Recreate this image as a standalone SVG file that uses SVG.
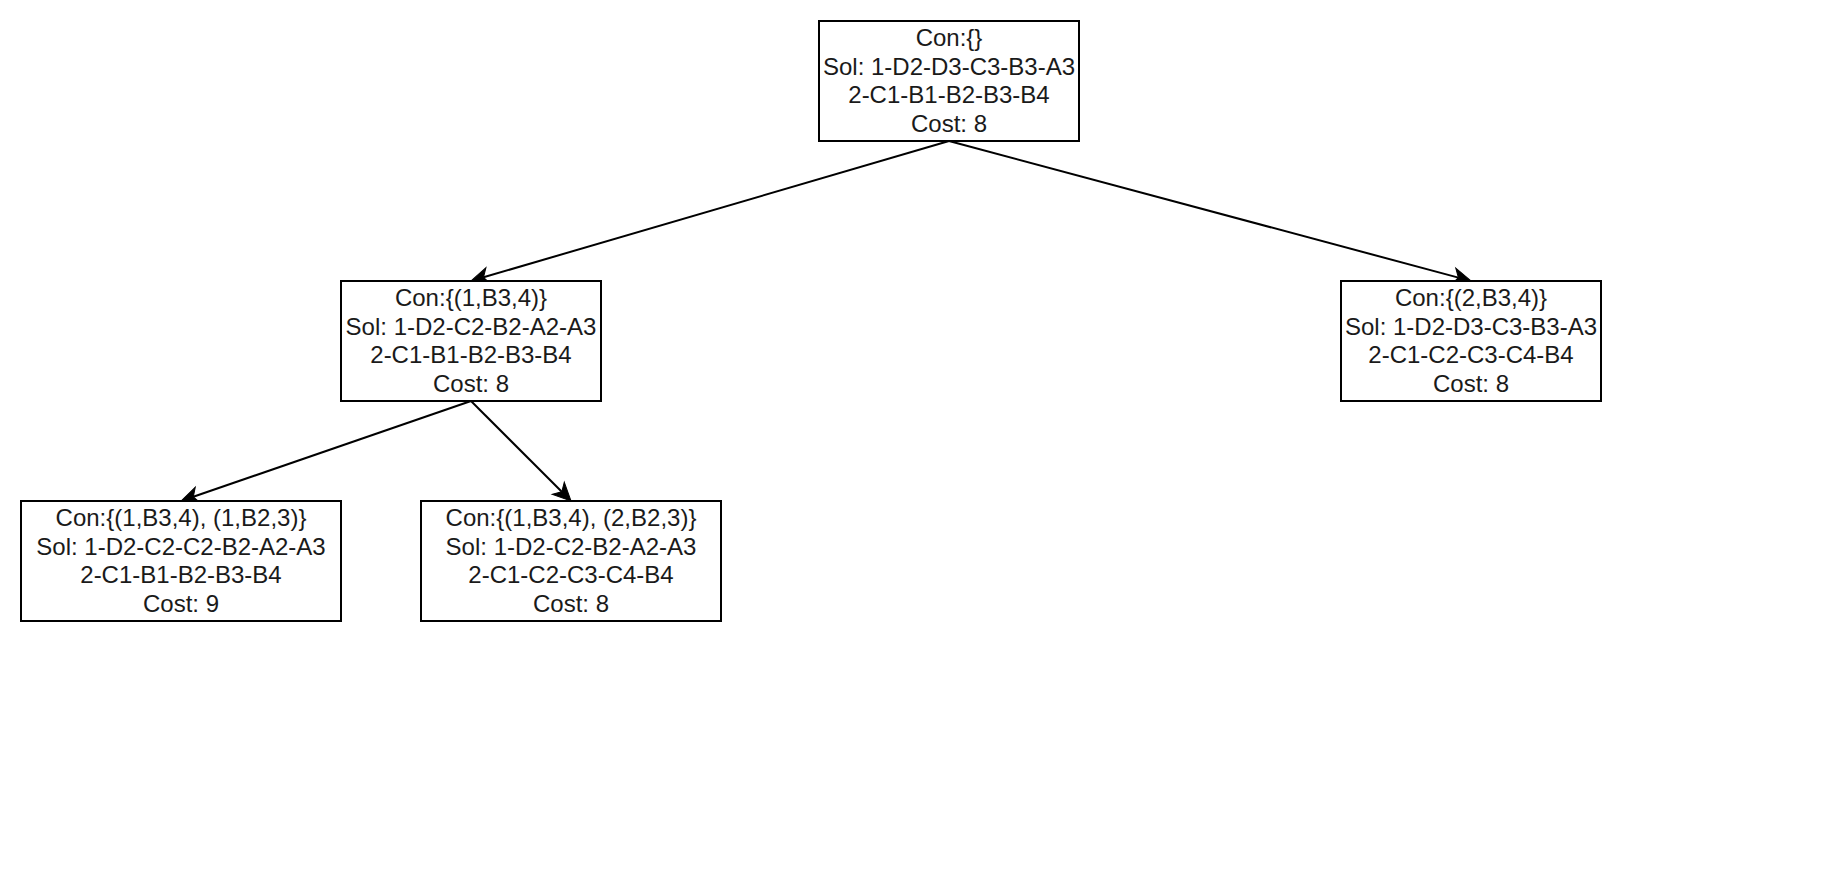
<svg xmlns="http://www.w3.org/2000/svg" width="1842" height="882" viewBox="0 0 1842 882">
  <style>
    .box { fill: #ffffff; stroke: #000000; stroke-width: 2; }
    .lbl { font-family: "Liberation Sans", Arial, sans-serif; font-size: 24px; fill: #1a1a1a; text-anchor: middle; }
    .edge { fill: none; stroke: #000000; stroke-width: 2; marker-end: url(#arrow); }
  </style>
  <defs>
    <!-- classic filled arrowhead; line stops at the notch, tip extends 13px further -->
    <marker id="arrow" markerUnits="userSpaceOnUse" orient="auto" refX="0" refY="0" markerWidth="40" markerHeight="40" viewBox="-10 -20 40 40" overflow="visible">
      <path d="M13,0 L-5,-8.5 L0,0 L-5,8.5 Z" fill="#000000" stroke="#000000" stroke-width="1" stroke-linejoin="miter"/>
    </marker>
  </defs>
  <rect width="1842" height="882" fill="#ffffff"/>

  <g id="connectors">
    <path class="edge" d="M949,141 L483.5,277.3"/>
    <path class="edge" d="M949,141 L1458.4,277.6"/>
    <path class="edge" d="M471,401 L193.3,496.8"/>
    <path class="edge" d="M471,401 L561.8,491.8"/>
  </g>

  <g id="root">
    <rect class="box" x="819" y="21" width="260" height="120"/>
    <text class="lbl" x="949" y="46">Con:{}</text>
    <text class="lbl" x="949" y="74.5">Sol: 1-D2-D3-C3-B3-A3</text>
    <text class="lbl" x="949" y="103">2-C1-B1-B2-B3-B4</text>
    <text class="lbl" x="949" y="131.5">Cost: 8</text>
  </g>

  <g id="left">
    <rect class="box" x="341" y="281" width="260" height="120"/>
    <text class="lbl" x="471" y="306">Con:{(1,B3,4)}</text>
    <text class="lbl" x="471" y="334.5">Sol: 1-D2-C2-B2-A2-A3</text>
    <text class="lbl" x="471" y="363">2-C1-B1-B2-B3-B4</text>
    <text class="lbl" x="471" y="391.5">Cost: 8</text>
  </g>

  <g id="right">
    <rect class="box" x="1341" y="281" width="260" height="120"/>
    <text class="lbl" x="1471" y="306">Con:{(2,B3,4)}</text>
    <text class="lbl" x="1471" y="334.5">Sol: 1-D2-D3-C3-B3-A3</text>
    <text class="lbl" x="1471" y="363">2-C1-C2-C3-C4-B4</text>
    <text class="lbl" x="1471" y="391.5">Cost: 8</text>
  </g>

  <g id="left-left">
    <rect class="box" x="21" y="501" width="320" height="120"/>
    <text class="lbl" x="181" y="526">Con:{(1,B3,4), (1,B2,3)}</text>
    <text class="lbl" x="181" y="554.5">Sol: 1-D2-C2-C2-B2-A2-A3</text>
    <text class="lbl" x="181" y="583">2-C1-B1-B2-B3-B4</text>
    <text class="lbl" x="181" y="611.5">Cost: 9</text>
  </g>

  <g id="left-right">
    <rect class="box" x="421" y="501" width="300" height="120"/>
    <text class="lbl" x="571" y="526">Con:{(1,B3,4), (2,B2,3)}</text>
    <text class="lbl" x="571" y="554.5">Sol: 1-D2-C2-B2-A2-A3</text>
    <text class="lbl" x="571" y="583">2-C1-C2-C3-C4-B4</text>
    <text class="lbl" x="571" y="611.5">Cost: 8</text>
  </g>
</svg>
